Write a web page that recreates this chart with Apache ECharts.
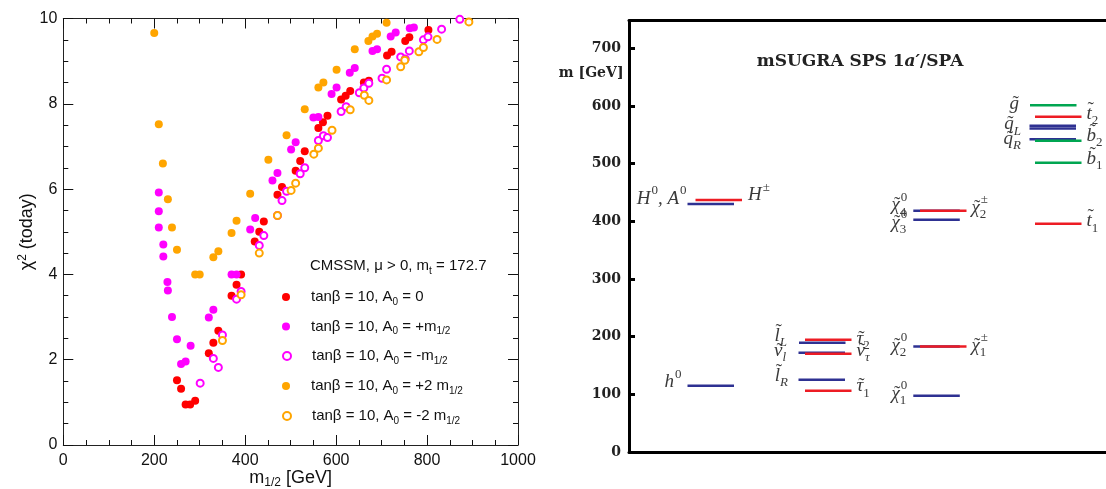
<!DOCTYPE html>
<html><head><meta charset="utf-8">
<script src="https://cdn.jsdelivr.net/npm/echarts@6/dist/echarts.min.js"></script>
<style>html,body{margin:0;padding:0;background:#fff}#c{width:1106px;height:489px}</style>
</head><body><div id="c"></div>
<script>
// ================= LEFT PANEL DATA (m_1/2 [GeV], chi^2) =================
const seriesNames = ['A0 = 0', 'A0 = +m', 'A0 = -m', 'A0 = +2m', 'A0 = -2m'];
const legendLabels = [
  'tanβ = 10, A{sub|0} = 0',
  'tanβ = 10, A{sub|0} = +m{sub|1/2}',
  'tanβ = 10, A{sub|0} = -m{sub|1/2}',
  'tanβ = 10, A{sub|0} = +2 m{sub|1/2}',
  'tanβ = 10, A{sub|0} = -2 m{sub|1/2}'
];
const headerText = 'CMSSM, μ > 0, m{sub|t} = 172.7';

const redM   = [250,259,269,279,290,320,330,341,370,381,391,421,431,441,471,481,511,521,531,561,571,581,611,621,631,661,672,712,722,752,761,803];
const redChi = [1.52,1.32,0.95,0.95,1.04,2.15,2.4,2.68,3.5,3.76,4.0,4.77,5.0,5.24,5.87,6.05,6.43,6.66,6.89,7.43,7.57,7.72,8.1,8.19,8.3,8.5,8.54,9.13,9.22,9.47,9.56,9.73];

const magM   = [210,210,210,220,220,229,230,239,250,259,269,280,320,330,370,381,411,422,460,471,501,511,550,561,590,601,630,641,680,690,720,731,762,771];
const magChi = [5.92,5.48,5.1,4.7,4.42,3.82,3.62,3.0,2.48,1.9,1.96,2.33,2.99,3.17,4.0,4.0,5.05,5.32,6.2,6.38,6.93,7.1,7.68,7.69,8.23,8.38,8.73,8.84,9.24,9.28,9.58,9.67,9.77,9.79];

const magOpenM   = [301,330,341,350,381,391,431,441,471,481,491,521,531,561,572,581,611,622,651,661,672,701,711,742,752,761,792,802,832,872];
const magOpenChi = [1.45,2.03,1.82,2.58,3.42,3.6,4.68,4.91,5.38,5.73,5.95,6.36,6.5,7.14,7.25,7.21,7.82,7.93,8.26,8.37,8.48,8.6,8.81,9.1,9.05,9.24,9.5,9.57,9.75,9.98];

const orgM   = [200,210,219,230,239,250,290,300,330,341,370,381,411,451,491,531,561,572,601,641,671,680,690,711];
const orgChi = [9.66,7.52,6.6,5.76,5.1,4.58,4.0,4.0,4.4,4.54,4.97,5.26,5.89,6.69,7.26,7.87,8.38,8.5,8.8,9.28,9.47,9.58,9.64,9.9];

const orgOpenM   = [350,391,431,471,501,511,551,561,591,631,662,672,711,742,751,782,792,822,892];
const orgOpenChi = [2.45,3.52,4.5,5.38,5.97,6.14,6.82,6.96,7.38,7.86,8.2,8.08,8.56,8.87,9.02,9.22,9.32,9.51,9.92];

// ================= RIGHT PANEL DATA (masses in GeV) =================
const levelNames  = ['h0','H0/A0','H+-','l_L','nu_l','l_R','tau2','nu_tau','tau1',
                     'chi1_0','chi2_0','chi3_0','chi4_0','chi1_pm','chi2_pm',
                     'gluino','q_L','q_L2','q_R','t2','b2','b1','t1'];
const levelMass   = [115,430,437,189.5,172,125.3,194.6,170.4,106.2,
                     97.6,182.7,402.6,418,182.7,418,
                     601,565.5,561,542,581,539.5,501.4,395.7];
const levelColour = ['b','b','r','b','b','b','r','r','r',
                     'b','b','b','b','r','r',
                     'g','b','b','b','r','g','g','r'];
// label texts: [base, superscript, subscript] groups
const labelTexts = [
  [['h','0','']],
  [['H','0',''],[', ','',''],['A','0','']],
  [['H','±','']],
  [['l̃','','L']],
  [['ν̃','','l']],
  [['l̃','','R']],
  [['τ̃','','2']],
  [['ν̃','','τ']],
  [['τ̃','','1']],
  [['χ̃','0','4']],
  [['χ̃','0','3']],
  [['χ̃','±','2']],
  [['χ̃','0','2']],
  [['χ̃','±','1']],
  [['χ̃','0','1']],
  [['g̃','','']],
  [['q̃','','L']],
  [['q̃','','R']],
  [['t̃','','2']],
  [['b̃','','2']],
  [['b̃','','1']],
  [['t̃','','1']]
];
const labelMass = [121,439,445,201,175,131.7,196,175,114,428,397,423,184,184,100.5,604,568,542.5,586.6,547.7,508,400];
const rightTicksMax = 748;

// ================= LAYOUT (pixels, not data) =================
const colStart = [58.5, 169.5, 284.3, 400.5];     // x offset inside right grid
const segLen = 46.5;
const levelCol   = [0,0,0,1,1,1,1,1,1,2,2,2,2,2,2,3,3,3,3,3,3,3,3];
const levelShift = [0,0,8,0.5,0,0,6.5,6.5,6.5,0,0,0,0,6.7,6.7,0.5,0,0,0,5.5,5.5,5.5,5.5];
const labelCol   = [0,0,0,1,1,1,1,1,1,2,2,2,2,2,2,3,3,3,3,3,3,3];
const labelSide  = ['L','L','R','L','L','L','R','R','R','L','L','R','L','R','L','L','L','L','R','R','R','R'];
const labelShift = [0,0,8,0,0,0,6.5,6.5,6.5,0,0,6.7,0,6.7,0,0,0,0,5.5,5.5,5.5,5.5];
const labelGap   = [6,1,6,10.5,11.5,9.5,5,5,5,6,6,5,6,5,6,10.5,7.5,7.5,5,5,5,5];

const COLORS = {b:'#2e3192', r:'#ed1c24', g:'#00a651'};
const SANS = 'Liberation Sans';
const SERIF = 'Liberation Serif';

const chart = echarts.init(document.getElementById('c'), null, {renderer:'canvas'});

const ctx = document.createElement('canvas').getContext('2d');
function measure(t, font){ ctx.font = font; return ctx.measureText(t).width; }
const BASE_PX = 19;
const BASE_FONT = 'italic ' + BASE_PX + 'px "' + SERIF + '"';
const TILDE_FONT = BASE_PX + 'px "' + SERIF + '"';
function scriptFont(t){ return (/[A-Za-zτl]/.test(t) ? 'italic ' : '') + '13px "' + SERIF + '"'; }
const LABEL_COLOR = '#3a3a3a';

function renderLevel(params, api){
  const i = params.dataIndex;
  const x0 = colStart[levelCol[i]] + levelShift[i];
  const m = api.value(1);
  const p0 = api.coord([x0, m]);
  const p1 = api.coord([x0 + segLen, m]);
  return {type:'line', shape:{x1:p0[0], y1:p0[1], x2:p1[0], y2:p1[1]},
          style:{stroke: COLORS[levelColour[i]], lineWidth: 2.5}};
}

function renderLabel(params, api){
  const i = params.dataIndex;
  const y = api.coord([0, api.value(1)])[1];
  const segs = []; let w = 0;
  labelTexts[i].forEach(function(p){
    const hasTilde = p[0].indexOf('\u0303') >= 0;
    const b = p[0].replace('\u0303', '');
    const bw = measure(b, BASE_FONT);
    const spw = p[1] ? measure(p[1], scriptFont(p[1])) : 0;
    const sbw = p[2] ? measure(p[2], scriptFont(p[2])) : 0;
    const sw = Math.max(spw, sbw);
    segs.push({b:b, tilde:hasTilde, sp:p[1], sb:p[2], x:w, bw:bw});
    w += bw + (sw ? sw + 1 : 0);
  });
  let x0;
  const c = labelCol[i];
  if (labelSide[i] === 'L') {
    x0 = api.coord([colStart[c], 0])[0] - labelGap[i] - w;
  } else {
    x0 = api.coord([colStart[c] + labelShift[i] + segLen, 0])[0] + labelGap[i];
  }
  const children = [];
  segs.forEach(function(s){
    children.push({type:'text', style:{text:s.b, x:x0+s.x, y:y, font:BASE_FONT, fill:LABEL_COLOR, align:'left', verticalAlign:'middle'}});
    if (s.tilde) {
      const tall = /[lbth]/.test(s.b);
      children.push({type:'text', style:{text:'˜', x:x0+s.x+s.bw/2+1.5, y:y + (tall ? -4 : 0), font:TILDE_FONT, fill:LABEL_COLOR, align:'center', verticalAlign:'middle'}});
    }
    if (s.sp) children.push({type:'text', style:{text:s.sp, x:x0+s.x+s.bw+1, y:y-8, font:scriptFont(s.sp), fill:LABEL_COLOR, align:'left', verticalAlign:'middle'}});
    if (s.sb) children.push({type:'text', style:{text:s.sb, x:x0+s.x+s.bw, y:y+7, font:scriptFont(s.sb), fill:LABEL_COLOR, align:'left', verticalAlign:'middle'}});
  });
  return {type:'group', children: children};
}

const zip = (a,b) => a.map((v,i)=>[v,b[i]]);
const scatterDefs = [
  {name: seriesNames[0], data: zip(redM, redChi), color:'#ff0000', open:false},
  {name: seriesNames[1], data: zip(magM, magChi), color:'#ff00ff', open:false},
  {name: seriesNames[2], data: zip(magOpenM, magOpenChi), color:'#ff00ff', open:true},
  {name: seriesNames[3], data: zip(orgM, orgChi), color:'#ffa500', open:false},
  {name: seriesNames[4], data: zip(orgOpenM, orgOpenChi), color:'#ffa500', open:true}
];
const legendRowY = [297, 326.5, 356, 386, 416];
const richSub = {sub:{fontSize:10, lineHeight:6, verticalAlign:'bottom', fontFamily:SANS, color:'#111'}};

const axisCommonL = {
  min:0, axisLine:{show:true, onZero:false, lineStyle:{color:'#222', width:1}},
  axisTick:{show:true, inside:true, length:10, lineStyle:{color:'#111', width:1}},
  minorTick:{show:true, splitNumber:4, length:5, lineStyle:{color:'#111', width:1}},
  splitLine:{show:false}, minorSplitLine:{show:false}
};

const option = {
  backgroundColor:'#fff',
  animation:false,
  grid:[
    {left:63.3, right:588, top:18.5, bottom:44, outerBoundsMode:'none', containLabel:false},
    {left:629, right:0, top:20.5, bottom:37, outerBoundsMode:'none', containLabel:false}
  ],
  xAxis:[
    Object.assign({}, axisCommonL, {gridIndex:0, type:'value', max:1000, interval:200, position:'bottom',
      axisLabel:{show:true, margin:8, fontFamily:SANS, fontSize:16, color:'#111', formatter:function(v){return String(v);}},
      name:'m{sub|1/2} [GeV]', nameLocation:'middle', nameGap:22, nameMoveOverlap:false,
      nameTextStyle:{fontFamily:SANS, fontSize:18, color:'#111', lineHeight:22,
        rich:{sub:{fontSize:12, lineHeight:6, verticalAlign:'bottom', fontFamily:SANS, color:'#111'}}}}),
    Object.assign({}, axisCommonL, {gridIndex:0, type:'value', max:1000, interval:200, position:'top',
      axisLabel:{show:false}}),
    {gridIndex:1, type:'value', min:0, max:477, position:'bottom', axisLine:{show:true, onZero:false, lineStyle:{color:'#000', width:3}},
      axisTick:{show:false}, axisLabel:{show:false}, splitLine:{show:false}},
    {gridIndex:1, type:'value', min:0, max:477, position:'top', axisLine:{show:true, onZero:false, lineStyle:{color:'#000', width:3}},
      axisTick:{show:false}, axisLabel:{show:false}, splitLine:{show:false}}
  ],
  yAxis:[
    Object.assign({}, axisCommonL, {gridIndex:0, type:'value', max:10, interval:2, position:'left',
      axisLabel:{show:true, margin:6, fontFamily:SANS, fontSize:16, color:'#111'},
      name:'χ{sup|2} (today)', nameLocation:'middle', nameGap:25, nameRotate:90, nameMoveOverlap:false,
      nameTextStyle:{fontFamily:SANS, fontSize:18, color:'#111', lineHeight:22,
        rich:{sup:{fontSize:12, lineHeight:14, verticalAlign:'top', fontFamily:SANS, color:'#111'}}}}),
    Object.assign({}, axisCommonL, {gridIndex:0, type:'value', max:10, interval:2, position:'right',
      axisLabel:{show:false}}),
    {gridIndex:1, type:'value', min:0, max:rightTicksMax, interval:100, position:'left',
      axisLine:{show:true, onZero:false, lineStyle:{color:'#000', width:3}},
      axisTick:{show:true, inside:true, length:6, lineStyle:{color:'#000', width:3}},
      axisLabel:{show:true, showMaxLabel:false, margin:8, fontFamily:'DejaVu Serif', fontWeight:'bold', fontSize:14, color:'#222'},
      splitLine:{show:false}}
  ],
  legend: scatterDefs.map(function(s, i){
    return {show:true, data:[s.name], left:282, top:legendRowY[i]-10, orient:'horizontal',
      itemWidth:40, itemHeight:8, itemGap:0, selectedMode:false, padding:0,
      formatter: function(){ return legendLabels[i]; },
      textStyle:{fontFamily:SANS, fontSize:15, color:'#111', lineHeight:20, rich:richSub}};
  }),
  graphic:[
    {type:'text', x:310, y:266, style:{text:headerText, fontFamily:SANS, fontSize:15, fill:'#111', lineHeight:20,
      verticalAlign:'middle', align:'left', rich:richSub}},
    {type:'text', x:860, y:62, style:{text:'mSUGRA SPS 1{it|a′}/SPA', fontFamily:'DejaVu Serif', fontWeight:'bold', fontSize:17, fill:'#222',
      align:'center', verticalAlign:'middle', rich:{it:{fontFamily:'DejaVu Serif', fontWeight:'bold', fontStyle:'italic', fontSize:17, fill:'#222', color:'#222'}}}},
    {type:'text', x:623.5, y:73, style:{text:'m [GeV]', fontFamily:'DejaVu Serif', fontWeight:'bold', fontSize:14, fill:'#222',
      align:'right', verticalAlign:'middle'}}
  ],
  series: scatterDefs.map(function(s){
    return {type:'scatter', name:s.name, xAxisIndex:0, yAxisIndex:0, data:s.data,
      symbol: s.open ? 'emptyCircle' : 'circle', symbolSize: s.open ? 7 : 8,
      itemStyle: s.open ? {color:s.color, borderColor:s.color, borderWidth:1.2, opacity:1} : {color:s.color, opacity:1},
      emphasis:{disabled:true}, silent:true};
  }).concat([
    {type:'custom', name:'levels', xAxisIndex:2, yAxisIndex:2, coordinateSystem:'cartesian2d',
      data: levelMass.map(function(m,i){ return [colStart[levelCol[i]], m]; }),
      renderItem: renderLevel, silent:true, clip:false},
    {type:'custom', name:'labels', xAxisIndex:2, yAxisIndex:2, coordinateSystem:'cartesian2d',
      data: labelMass.map(function(m,i){ return [colStart[labelCol[i]], m]; }),
      renderItem: renderLabel, silent:true, clip:false}
  ])
};
chart.setOption(option);
</script></body></html>
